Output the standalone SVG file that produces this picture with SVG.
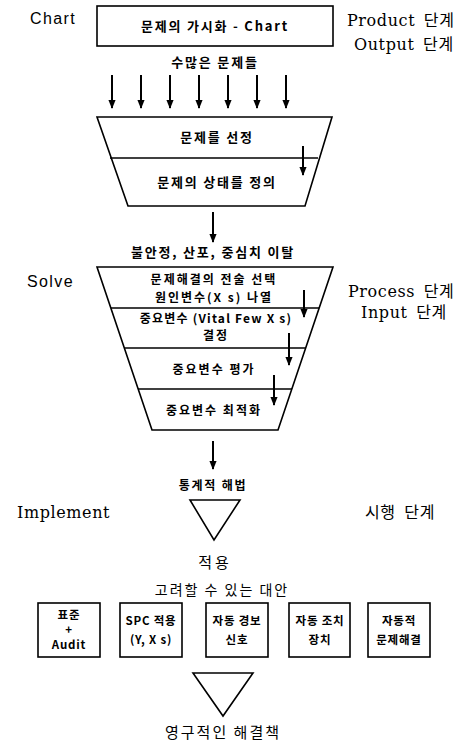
<svg xmlns="http://www.w3.org/2000/svg" width="469" height="743" viewBox="0 0 469 743">
<defs>
<marker id="ah" viewBox="0 0 10 10" refX="9" refY="5" markerWidth="4.6" markerHeight="4.6" markerUnits="strokeWidth" orient="auto">
<path d="M0,1 L10,5 L0,9 z" fill="#000"/>
</marker>
<style>
.sh{fill:#fff;stroke:#000;stroke-width:1.6}
.ln{stroke:#000;stroke-width:1.4;fill:none}
.ar{stroke:#000;stroke-width:2;fill:none;marker-end:url(#ah)}
.k{font-family:"Noto Sans CJK KR","Liberation Sans",sans-serif;font-size:13px;font-weight:bold;letter-spacing:1.8px;fill:#000;text-anchor:middle}
.kf{font-family:"Noto Sans CJK KR","Liberation Sans",sans-serif;font-size:12px;font-weight:bold;letter-spacing:2px;fill:#000;text-anchor:middle}
.ks{font-family:"Noto Sans CJK KR","Liberation Sans",sans-serif;font-size:11.5px;font-weight:bold;letter-spacing:0.8px;fill:#000;text-anchor:middle}
.kn{font-family:"Noto Sans CJK KR","Liberation Sans",sans-serif;font-size:14px;letter-spacing:2px;fill:#000;text-anchor:middle}
.side{font-family:"DejaVu Serif","Noto Sans CJK KR",serif;font-size:16px;letter-spacing:0.6px;word-spacing:3px;fill:#000}
.sans{font-family:"Liberation Sans",sans-serif;font-size:16px;letter-spacing:1.4px;fill:#000}
</style>
</defs>
<g id="labels">
<text class="sans" x="30" y="24">Chart</text>
<text class="side" x="347" y="26">Product 단계</text>
<text class="side" x="354" y="50">Output 단계</text>
<text class="sans" x="27" y="287">Solve</text>
<text class="side" x="348" y="297">Process 단계</text>
<text class="side" x="361" y="318">Input 단계</text>
<text class="side" x="17" y="518">Implement</text>
<text class="side" x="365" y="518">시행 단계</text>
<text class="k" x="215" y="67">수많은 문제들</text>
<text class="k" x="213" y="257">불안정, 산포, 중심치 이탈</text>
<text class="k" x="213" y="490" style="font-size:12px">통계적 해법</text>
<text class="kn" x="215" y="568" style="font-size:15px;letter-spacing:3px">적용</text>
<text class="kn" x="222" y="595">고려할 수 있는 대안</text>
<text class="kn" x="223" y="738" style="font-size:15px">영구적인 해결책</text>
</g>
<g id="chart">
<rect class="sh" x="97" y="6" width="236" height="40"/>
<text class="k" x="215" y="31">문제의 가시화 - Chart</text>
</g>
<g id="funnel1">
<path class="sh" d="M97,117 L332,117 L305,206 L128,206 Z"/>
<line class="ln" x1="110" y1="158" x2="318" y2="158"/>
<text class="k" x="217" y="142">문제를 선정</text>
<text class="k" x="217" y="187">문제의 상태를 정의</text>
</g>
<g id="funnel2">
<path class="sh" d="M97,267 L333,267 L278,430 L152,430 Z"/>
<line class="ln" x1="111" y1="308" x2="319" y2="308"/>
<line class="ln" x1="124" y1="348" x2="306" y2="348"/>
<line class="ln" x1="138" y1="389" x2="292" y2="389"/>
<text class="kf" x="214" y="284">문제해결의 전술 선택</text>
<text class="kf" x="214" y="302">원인변수(X s) 나열</text>
<text class="kf" x="216" y="323" style="letter-spacing:1.2px">중요변수 (Vital Few X s)</text>
<text class="kf" x="216" y="340">결정</text>
<text class="kf" x="214" y="374">중요변수 평가</text>
<text class="kf" x="214" y="415">중요변수 최적화</text>
</g>
<g id="tri1">
<path class="sh" d="M190,500 L240,500 L214,540 Z"/>
</g>
<g id="b1"><rect class="sh" x="38" y="603" width="62" height="54"/><text class="ks" x="69" y="619">표준</text><text class="ks" x="69" y="634">+</text><text class="ks" x="69" y="649">Audit</text></g>
<g id="b2"><rect class="sh" x="120" y="603" width="62" height="54"/><text class="ks" x="151" y="625">SPC 적용</text><text class="ks" x="151" y="644">(Y, X s)</text></g>
<g id="b3"><rect class="sh" x="206" y="603" width="62" height="54"/><text class="ks" x="237" y="625">자동 경보</text><text class="ks" x="237" y="644">신호</text></g>
<g id="b4"><rect class="sh" x="289" y="603" width="61" height="54"/><text class="ks" x="320" y="625">자동 조치</text><text class="ks" x="320" y="644">장치</text></g>
<g id="b5"><rect class="sh" x="368" y="603" width="62" height="54"/><text class="ks" x="399" y="625">자동적</text><text class="ks" x="399" y="644">문제해결</text></g>
<g id="tri2">
<path class="sh" d="M193,673 L253,673 L223,716 Z"/>
</g>
<g id="connectors">
<line class="ar" x1="112" y1="75" x2="112" y2="108"/>
<line class="ar" x1="141" y1="75" x2="141" y2="108"/>
<line class="ar" x1="170" y1="75" x2="170" y2="108"/>
<line class="ar" x1="199" y1="75" x2="199" y2="108"/>
<line class="ar" x1="228" y1="75" x2="228" y2="108"/>
<line class="ar" x1="257" y1="75" x2="257" y2="108"/>
<line class="ar" x1="286" y1="75" x2="286" y2="108"/>
<line class="ar" x1="303" y1="146" x2="303" y2="175"/>
<line class="ar" x1="213" y1="212" x2="213" y2="242"/>
<line class="ar" x1="304" y1="290" x2="304" y2="317"/>
<line class="ar" x1="289" y1="333" x2="289" y2="365"/>
<line class="ar" x1="274" y1="375" x2="274" y2="405"/>
<line class="ar" x1="213" y1="441" x2="213" y2="469"/>
</g>
</svg>
